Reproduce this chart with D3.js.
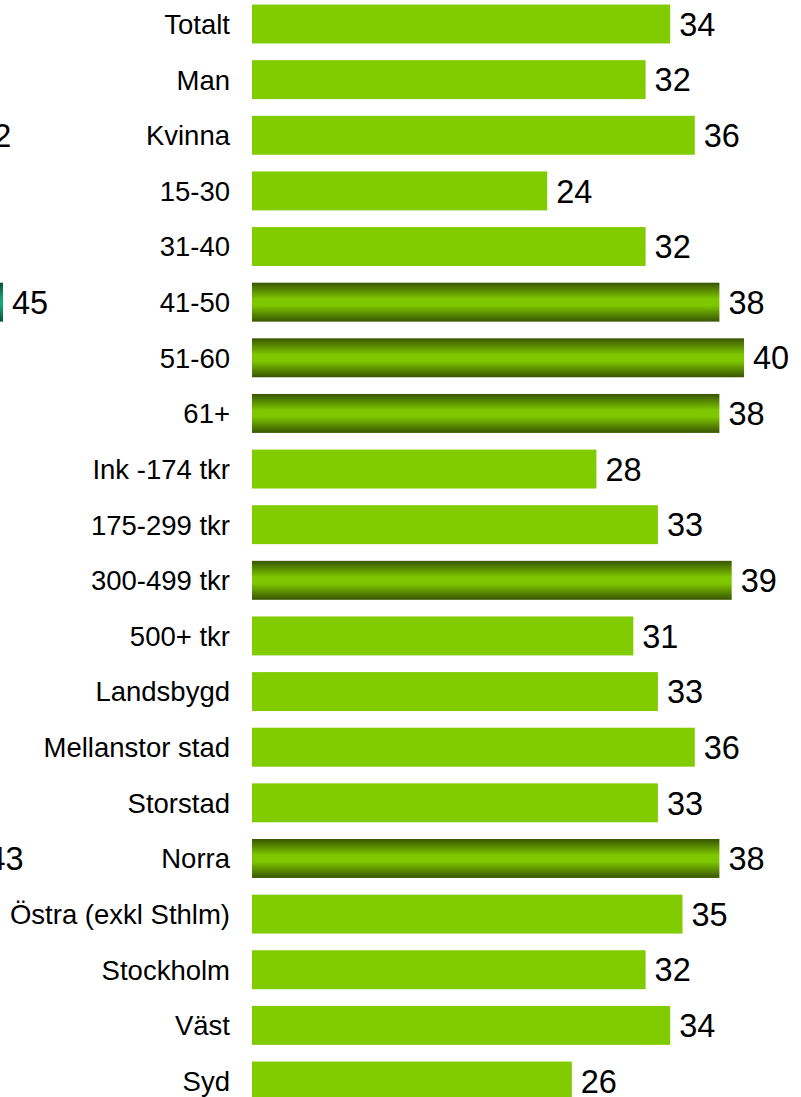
<!DOCTYPE html>
<html>
<head>
<meta charset="utf-8">
<script src="https://cdn.jsdelivr.net/npm/d3@7"></script>
<style>
  body { margin: 0; background: #fff; }
  text { font-family: "Liberation Sans", Arial, sans-serif; fill: #000; }
</style>
</head>
<body>
<div id="chart"></div>
<script>
// Categories and values
var categories = ["Totalt", "Man", "Kvinna", "15-30", "31-40", "41-50", "51-60", "61+",
  "Ink -174 tkr", "175-299 tkr", "300-499 tkr", "500+ tkr", "Landsbygd", "Mellanstor stad",
  "Storstad", "Norra", "Östra (exkl Sthlm)", "Stockholm", "Väst", "Syd"];
var values = [34, 32, 36, 24, 32, 38, 40, 38, 28, 33, 39, 31, 33, 36, 33, 38, 35, 32, 34, 26];
var highlighted = ["41-50", "51-60", "61+", "300-499 tkr", "Norra"];

// Cut-off neighbouring panel on the left edge
var neighbourRows = ["Kvinna", "41-50", "Norra"];
var neighbourValues = [42, 45, 43];
var neighbourHighlighted = ["41-50"];

var width = 801, height = 1097;

var svg = d3.select('#chart').append('svg')
    .attr('width', width)
    .attr('height', height);

var defs = svg.append('defs');

// Vertical gradient for the highlighted bars
function addGradient(id, edge, mid) {
    var g = defs.append('linearGradient')
        .attr('id', id)
        .attr('x1', 0).attr('y1', 0).attr('x2', 0).attr('y2', 1);
    g.append('stop').attr('offset', '0%').attr('stop-color', edge);
    g.append('stop').attr('offset', '42%').attr('stop-color', mid);
    g.append('stop').attr('offset', '58%').attr('stop-color', mid);
    g.append('stop').attr('offset', '100%').attr('stop-color', edge);
}
addGradient('hl', '#385500', '#7fc800');
addGradient('hl2', '#005436', '#1ca472');

var y = d3.scaleBand()
    .domain(categories)
    .range([-3.8, 1108.8])
    .paddingInner(0.3)
    .paddingOuter(0.15);

var x = d3.scaleLinear().domain([0, 40]).range([252, 744]);
var xn = d3.scaleLinear().domain([0, 45]).range([-550.5, 3]);

// Bars
svg.selectAll('.bar')
    .data(values)
    .enter()
    .append('rect')
    .attr('class', 'bar')
    .attr('x', x(0))
    .attr('y', function (d, i) { return y(categories[i]); })
    .attr('width', function (d) { return x(d) - x(0); })
    .attr('height', y.bandwidth())
    .attr('fill', function (d, i) {
        return highlighted.indexOf(categories[i]) >= 0 ? 'url(#hl)' : '#80cc00';
    });

// Value labels
svg.selectAll('.value')
    .data(values)
    .enter()
    .append('text')
    .attr('class', 'value')
    .attr('x', function (d) { return x(d) + 9; })
    .attr('y', function (d, i) { return y(categories[i]) + y.bandwidth() / 2; })
    .attr('dy', '0.36em')
    .style('font-size', '32.5px')
    .text(function (d) { return d; });

// Category labels
svg.selectAll('.cat')
    .data(categories)
    .enter()
    .append('text')
    .attr('class', 'cat')
    .attr('x', 230)
    .attr('y', function (d) { return y(d) + y.bandwidth() / 2; })
    .attr('dy', '0.36em')
    .attr('text-anchor', 'end')
    .style('font-size', '27.5px')
    .text(function (d) { return d; });

// Neighbouring panel (only its right end shows)
svg.selectAll('.nbar')
    .data(neighbourValues)
    .enter()
    .append('rect')
    .attr('class', 'nbar')
    .attr('x', xn(0))
    .attr('y', function (d, i) { return y(neighbourRows[i]); })
    .attr('width', function (d) { return xn(d) - xn(0); })
    .attr('height', y.bandwidth())
    .attr('fill', function (d, i) {
        return neighbourHighlighted.indexOf(neighbourRows[i]) >= 0 ? 'url(#hl2)' : '#009966';
    });

svg.selectAll('.nvalue')
    .data(neighbourValues)
    .enter()
    .append('text')
    .attr('class', 'nvalue')
    .attr('x', function (d) { return xn(d) + 9; })
    .attr('y', function (d, i) { return y(neighbourRows[i]) + y.bandwidth() / 2; })
    .attr('dy', '0.36em')
    .style('font-size', '32.5px')
    .text(function (d) { return d; });
</script>
</body>
</html>
